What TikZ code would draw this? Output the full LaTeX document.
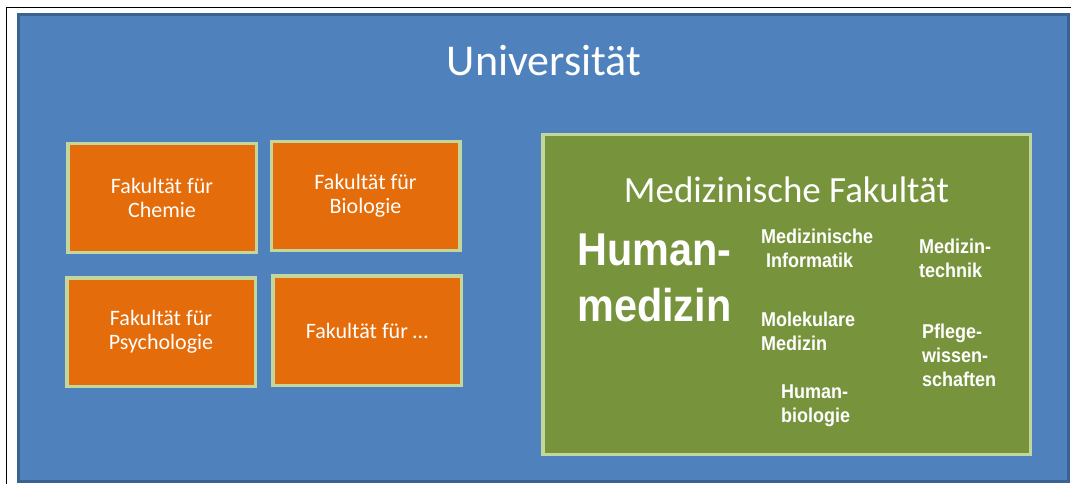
\documentclass[tikz,border=0pt]{standalone}
\usepackage{fontspec}
\setmainfont{Carlito}
\newfontfamily\arialn{Liberation Sans}[FakeStretch=0.9]
\definecolor{unifill}{HTML}{4F81BD}
\definecolor{unirand}{HTML}{3A6394}
\definecolor{fakfill}{HTML}{E46C0A}
\definecolor{hellgruen}{HTML}{C3D69B}
\definecolor{medfill}{HTML}{77933C}

\begin{document}
\begin{tikzpicture}[x=1pt,y=-1pt,
  fak/.style={draw=hellgruen,line width=3.5pt,fill=fakfill,text=white,
    minimum width=188.5pt,minimum height=108.5pt,inner sep=0pt,align=center,
    font=\fontsize{22}{24.5}\selectfont},
  fach/.style={text=white,inner sep=0pt,anchor=base west,align=left,
    font=\arialn\bfseries\fontsize{20}{24}\selectfont}]
\useasboundingbox (0,0) rectangle (1071,484);
\draw[line width=1.3pt] (6.5,484) |- (1071,7.3);

% Universitaet
\node[draw=unirand,line width=3pt,fill=unifill,minimum width=1050pt,
  minimum height=467pt,inner sep=0pt] (uni) at (543.5,248) {};
\node[anchor=base,text=white,inner sep=0pt,font=\fontsize{44}{52}\selectfont]
  (unititel) at (544,76) {Universität};

% Fakultaeten
\node[fak] (chemie) at (162,198) {Fakultät für\\Chemie};
\node[fak] (bio) at (365.5,196) {Fakultät für\\Biologie};
\node[fak] (psycho) at (161,332) {Fakultät für\\Psychologie};
\node[fak,minimum height=109.5pt] (weitere) at (367,330.5) {Fakultät für \dots};

% Medizinische Fakultaet (base = letzte Zeile)
\node[draw=hellgruen,line width=3.5pt,fill=medfill,minimum width=487.5pt,
  minimum height=319.5pt,inner sep=0pt] (med) at (786.5,294.5) {};
\node[anchor=base,text=white,inner sep=0pt,font=\fontsize{37}{44}\selectfont]
  (medtitel) at (786.5,202) {Medizinische Fakultät};
\node[fach,font=\arialn\bfseries\fontsize{46}{56}\selectfont]
  (humanmed) at (577,321) {Human-\\medizin};
\node[fach] (medinf) at (761,267.7) {Medizinische\\\hspace*{5pt}Informatik};
\node[fach] (medtech) at (919,277.3) {Medizin-\\technik};
\node[fach] (molmed) at (761,350) {Molekulare\\Medizin};
\node[fach] (pflege) at (922,386.7) {Pflege-\\wissen-\\schaften};
\node[fach] (humbio) at (781,422.3) {Human-\\biologie};
\end{tikzpicture}
\end{document}
